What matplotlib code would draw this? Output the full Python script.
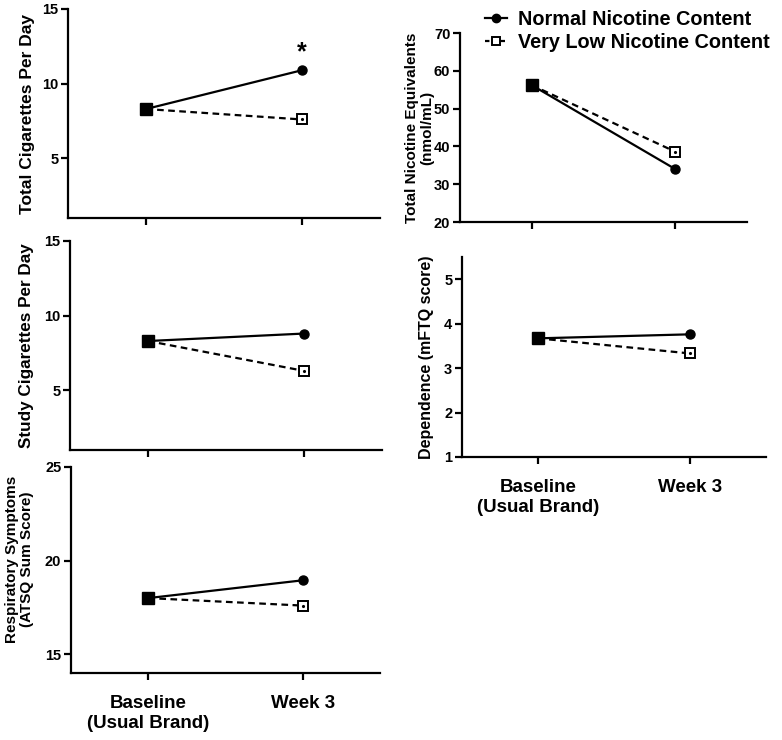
import matplotlib
matplotlib.use("Agg")
import matplotlib.pyplot as plt
from matplotlib.lines import Line2D

plt.rcParams['font.family'] = ['Liberation Sans', 'DejaVu Sans']
plt.rcParams['font.weight'] = 'bold'

timepoints = ['Baseline\n(Usual Brand)', 'Week 3']
groups = ['Normal Nicotine Content', 'Very Low Nicotine Content']

total_cpd_nnc = [8.3, 10.9]
total_cpd_vlnc = [8.3, 7.6]
tne_nnc = [56.2, 34.0]
tne_vlnc = [56.2, 38.6]
study_cpd_nnc = [8.3, 8.8]
study_cpd_vlnc = [8.3, 6.3]
dep_nnc = [3.67, 3.76]
dep_vlnc = [3.67, 3.33]
resp_nnc = [18.0, 18.95]
resp_vlnc = [18.0, 17.6]

W, H = 782, 740
fig = plt.figure(figsize=(W / 100, H / 100), dpi=100)


def box(l, r, t, b):
    return [l / W, 1 - b / H, (r - l) / W, (b - t) / H]


def panel(rect, nnc, vlnc, ylim, yticks, ylabel, labx, labsize, laby=0.5, show_x=False):
    ax = fig.add_axes(rect)
    x = [0, 1]
    ax.plot(x, nnc, color='k', lw=1.6, marker='o', ms=6.5, markevery=[1], zorder=3)
    ax.plot(x, vlnc, color='k', lw=1.6, ls=(0, (3, 2)), marker='s', ms=6.5,
            mfc='white', mec='k', mew=1.4, markevery=[1], zorder=3)
    ax.plot(x[1], vlnc[1], marker='.', ms=2.5, color='k', zorder=4)
    ax.plot(x[0], nnc[0], marker='s', ms=8.5, color='k', zorder=5)
    ax.set_xlim(-0.5, 1.5)
    ax.set_ylim(*ylim)
    ax.set_yticks(yticks)
    ax.set_xticks(x)
    for s in ['top', 'right']:
        ax.spines[s].set_visible(False)
    for s in ['left', 'bottom']:
        ax.spines[s].set_linewidth(1.6)
    ax.tick_params(width=1.6, length=5, labelsize=10.5, pad=2)
    ax.tick_params(axis='x', pad=11)
    if show_x:
        ax.set_xticklabels(timepoints, fontsize=13.5, fontweight='bold')
    else:
        ax.set_xticklabels([])
    ax.set_ylabel(ylabel, fontsize=labsize, fontweight='bold', linespacing=1.1,
                  va='center', ha='center')
    ax.yaxis.set_label_coords(labx, laby)
    return ax


ax1 = panel(box(68, 380, 9, 218), total_cpd_nnc, total_cpd_vlnc, (1, 15), [5, 10, 15],
            'Total Cigarettes Per Day', -0.131, 12.5)
ax1.text(1, 11.3, '*', ha='center', va='bottom', fontsize=18, fontweight='bold')

ax2 = panel(box(460, 747, 33, 222), tne_nnc, tne_vlnc, (20, 70), [20, 30, 40, 50, 60, 70],
            'Total Nicotine Equivalents\n(nmol/mL)', -0.141, 11)

ax3 = panel(box(70, 382, 241, 450), study_cpd_nnc, study_cpd_vlnc, (1, 15), [5, 10, 15],
            'Study Cigarettes Per Day', -0.138, 12.3)

ax4 = panel(box(462, 766, 257, 457), dep_nnc, dep_vlnc, (1, 5.5), [1, 2, 3, 4, 5],
            'Dependence (mFTQ score)', -0.118, 11.5, show_x=True)

ax5 = panel(box(71, 380, 467, 673), resp_nnc, resp_vlnc, (14, 25), [15, 20, 25],
            'Respiratory Symptoms\n(ATSQ Sum Score)', -0.168, 11, laby=0.553, show_x=True)

handles = [
    Line2D([], [], color='k', lw=1.6, marker='o', ms=6),
    Line2D([], [], color='k', lw=1.6, ls=(0, (2, 1.5)), marker='s', ms=6,
           mfc='white', mec='k', mew=1.4),
]
fig.legend(handles, groups, loc='upper left', bbox_to_anchor=(485 / W, 1 - 10 / H),
           frameon=False, handlelength=1.1, handletextpad=0.55,
           labelspacing=0.22, borderpad=0, borderaxespad=0,
           prop={'weight': 'bold', 'size': 14.3})

fig.savefig('out.png', dpi=100)
